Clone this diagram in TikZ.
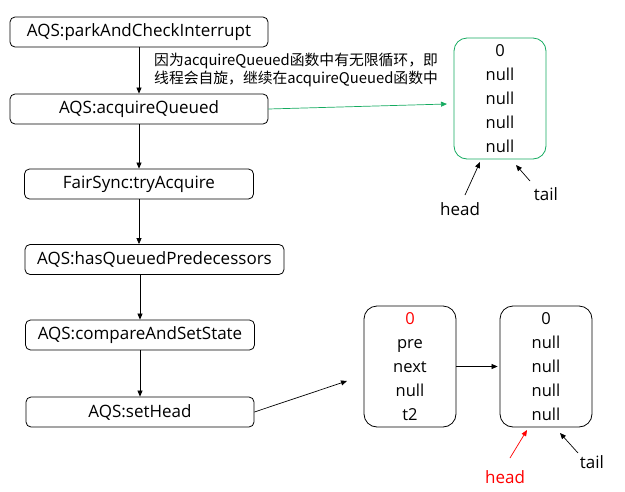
\documentclass[tikz,border=0pt]{standalone}
\usepackage{fontspec}
\setmainfont{Open Sans}
\newfontfamily\cjk{Noto Sans CJK SC}
\usetikzlibrary{arrows.meta}
\definecolor{qgreen}{RGB}{20,170,95}
\begin{document}
\begin{tikzpicture}[
        x=1pt, y=-1pt,
        call/.style={draw, rounded corners=5pt, minimum height=30pt, inner sep=0pt, line width=0.8pt, font=\fontsize{17}{18}\selectfont},
        qnode/.style={draw, rounded corners=13pt, minimum width=92pt, minimum height=121pt, inner sep=0pt, align=center, line width=0.8pt, font=\fontsize{16.5}{24}\selectfont},
        lbl/.style={inner sep=1pt, font=\fontsize{17}{18}\selectfont},
        link/.style={-{Triangle[length=6pt,width=5pt]}, line width=0.7pt},
    ]
    \useasboundingbox (0,0) rectangle (625,491);
    % call chain
    \node[call, minimum width=258pt](park) at (139,32){AQS:parkAndCheckInterrupt};
    \node[call, minimum width=258pt](acq) at (139,109){AQS:acquireQueued};
    \node[call, minimum width=229pt](try) at (139,184){FairSync:tryAcquire};
    \node[call, minimum width=259pt](has) at (154.5,259.5){AQS:hasQueuedPredecessors};
    \node[call, minimum width=229pt](cas) at (140,335){AQS:compareAndSetState};
    \node[call, minimum width=228pt](sethd) at (140,412){AQS:setHead};
    \node[anchor=north west, inner sep=0pt, align=left, font=\cjk\fontsize{14.8}{18}\selectfont](note) at (154,53)
        {因为acquireQueued函数中有无限循环，即\\线程会自旋，继续在acquireQueued函数中};

    \draw[link] (park) -- (acq);
    \draw[link] (acq) -- (try);
    \draw[link] (try.south) -- (try.south |- has.north);
    \draw[link] (has.south -| cas) -- (cas);
    \draw[link] (cas) -- (sethd);

    % queue before
    \node[qnode, draw=qgreen](q0) at (500,98.5){0\\null\\null\\null\\null};
    \node[lbl](hd0) at (460,209){head};
    \node[lbl](tl0) at (546,194){tail};
    \coordinate (acqtip) at (447,104);
    \coordinate (hd0s) at (465,195);
    \coordinate (hd0t) at (480,162);
    \coordinate (tl0s) at (530,181);
    \coordinate (tl0t) at (516,165);
    \draw[link, qgreen] (acq.east) -- (acqtip);
    \draw[link] (hd0s) -- (hd0t);
    \draw[link] (tl0s) -- (tl0t);

    % queue after setHead
    \node[qnode](q1) at (410,366.5){\textcolor{red}{0}\\pre\\next\\null\\t2};
    \node[qnode](q2) at (546,366.5){0\\null\\null\\null\\null};
    \node[lbl, text=red](hd1) at (505,477){head};
    \node[lbl](tl1) at (592,462){tail};
    \coordinate (settip) at (347,381);
    \coordinate (hd1s) at (510,458);
    \coordinate (hd1t) at (527,430);
    \coordinate (tl1s) at (578,453);
    \coordinate (tl1t) at (560,433);
    \draw[link] (sethd.east) -- (settip);
    \draw[link, shorten >=2pt] (q1) -- (q2);
    \draw[link, red] (hd1s) -- (hd1t);
    \draw[link] (tl1s) -- (tl1t);
\end{tikzpicture}
\end{document}
